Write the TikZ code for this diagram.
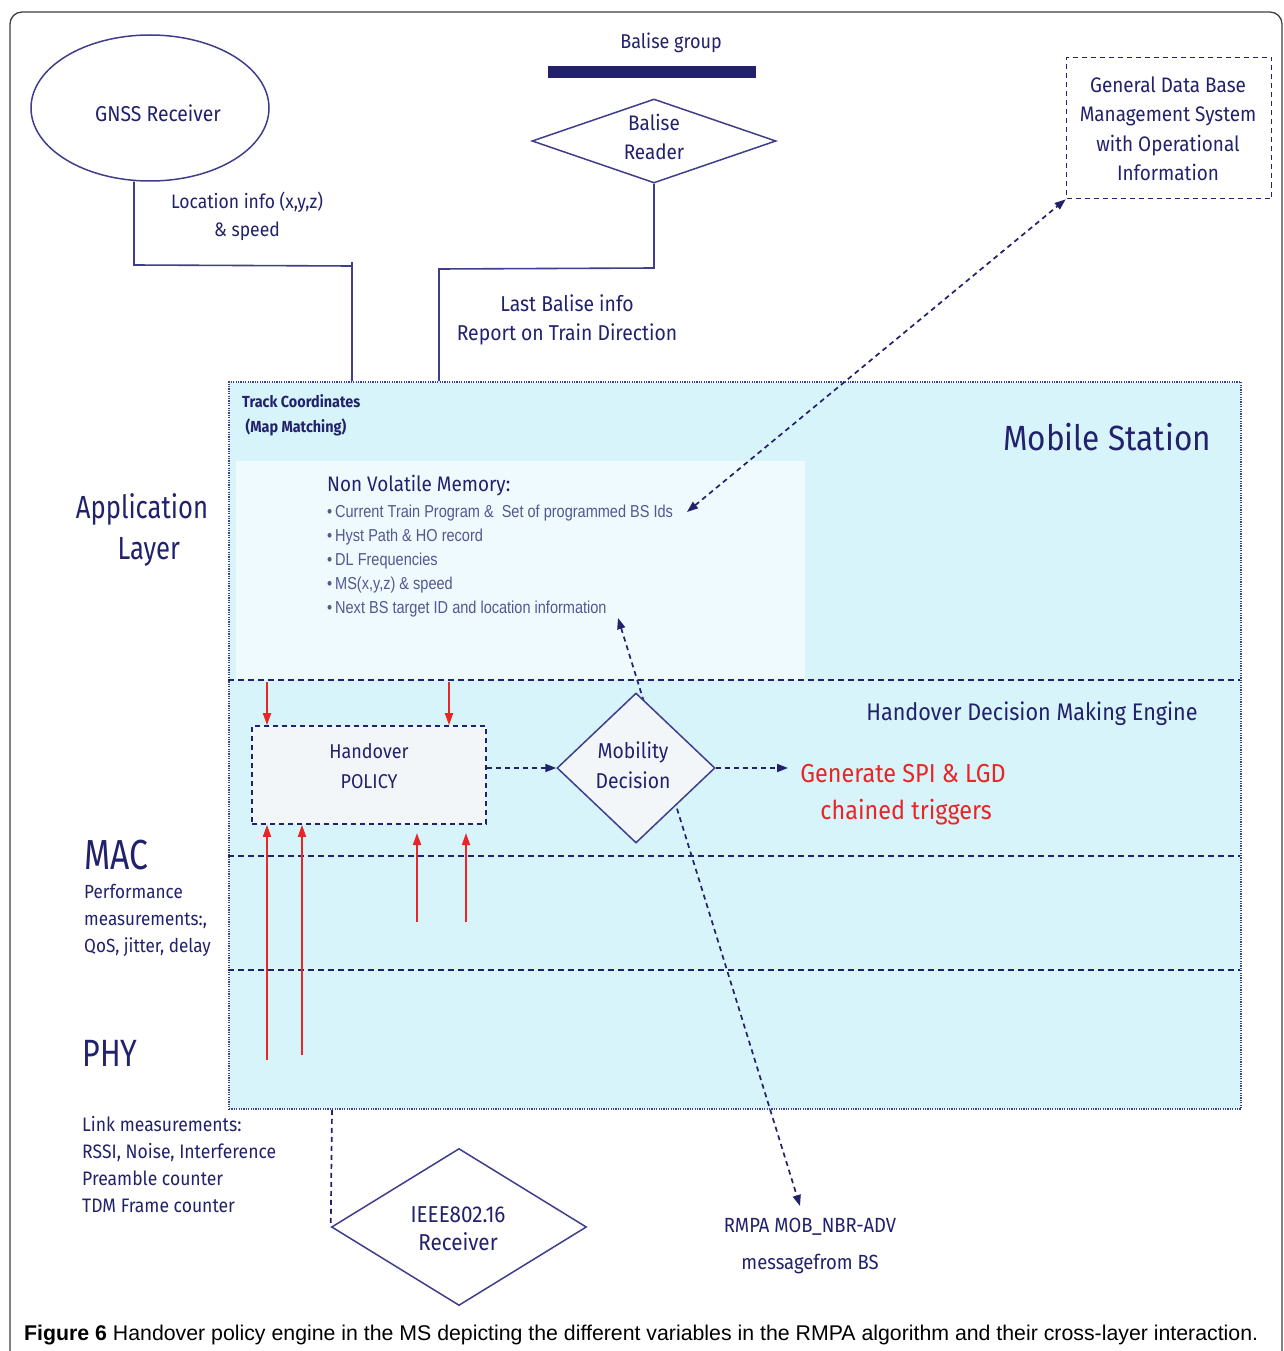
\documentclass[tikz,border=0pt]{standalone}
\usepackage{fontspec}
\setmainfont[FakeStretch=0.9]{Fira Sans}
\newfontfamily\tallfont[FakeStretch=0.8]{Fira Sans}
\newfontfamily\narrowfont[FakeStretch=0.84]{Liberation Sans}
\newfontfamily\capfont{Liberation Sans}
\usetikzlibrary{shapes.geometric,arrows.meta,calc}

\definecolor{ink}{RGB}{33,33,108}
\definecolor{wire}{RGB}{62,62,140}
\definecolor{msfill}{RGB}{216,244,251}
\definecolor{nvmfill}{RGB}{238,250,253}
\definecolor{redarr}{RGB}{232,38,38}
\definecolor{bulletink}{RGB}{82,88,145}
\definecolor{boxfill}{RGB}{243,246,248}

\newcommand{\fs}[2]{\fontsize{#1}{#2}\selectfont}

\tikzset{
  lbl/.style={text=ink, align=center, inner sep=0pt},
  lbll/.style={text=ink, align=left, inner sep=0pt, anchor=west},
  wireline/.style={draw=wire, line width=1.6pt},
  layerline/.style={draw=ink, line width=1.6pt, dash pattern=on 6pt off 4pt},
  dashlink/.style={draw=ink, line width=1.7pt, dash pattern=on 5pt off 4pt},
  tip/.style={-{Triangle[length=11pt,width=8pt]}},
  bothtips/.style={{Triangle[length=11pt,width=8pt]}-{Triangle[length=11pt,width=8pt]}},
  redarrow/.style={draw=redarr, line width=1.8pt, -{Triangle[length=12pt,width=8pt]}},
  outline/.style={draw=wire, line width=1.5pt},
}

\begin{document}
\begin{tikzpicture}[x=1pt,y=-1pt]
\useasboundingbox (0,0) rectangle (1284,1351);
\clip (0,0) rectangle (1284,1351);
\fill[white] (0,0) rectangle (1284,1351);

% outer frame
\draw[black!75, line width=1.3pt, rounded corners=12pt] (10,1400) -- (10,12) -- (1282,12) -- (1282,1400);

% ---------------- top sources ----------------
\node[ellipse, outline, minimum width=238pt, minimum height=146pt] (gnss) at (150,108) {};
\node[lbl, font=\fs{21.5}{25}] (gnsslbl) at (158,113) {GNSS Receiver};
\node[lbl, font=\fs{19.5}{28}] (locinfo) at (247,216) {Location info (x,y,z)\\ \& speed};

\node[lbl, font=\fs{20}{23}] (bgroup) at (671,43) {Balise group};
\node[fill=ink, minimum width=208pt, minimum height=12pt, inner sep=0pt] (bbar) at (652,72) {};
\node[diamond, outline, minimum width=244pt, minimum height=84pt, inner sep=0pt] (breader) at (654,141) {};
\node[lbl, font=\fs{21}{29}] (breaderlbl) at (654,137) {Balise\\Reader};
\node[lbl, font=\fs{21.5}{29}] (lastbal) at (567,320) {Last Balise info\\Report on Train Direction};

\node[draw=ink, line width=1.7pt, dash pattern=on 5pt off 4pt, minimum width=205pt, minimum height=141pt, inner sep=0pt] (db) at (1169,128) {};
\node[lbl, font=\fs{21}{29.5}] (dblbl) at (1168,129) {General Data Base\\Management System\\with Operational\\Information};

% ---------------- mobile station ----------------
\node[fill=msfill, draw=ink!85, line width=1.8pt, dash pattern=on 1.2pt off 1.2pt, minimum width=1012pt, minimum height=727pt, inner sep=0pt, anchor=north west] (ms) at (228,381) {};
\fill[nvmfill] (236,461) rectangle (805,680);

\draw[layerline] (228,680) -- (1240,680);
\draw[layerline] (228,856) -- (1240,856);
\draw[layerline] (228,970) -- (1240,970);

\node[lbll, font=\fs{16}{25}\bfseries] (track) at (242,415) {Track Coordinates\\\ (Map Matching)};
\node[lbl, font=\fs{35}{40}] (mslbl) at (1107,437) {Mobile Station};
\node[lbll, font=\fs{21}{25}] (nvm) at (327,486) {Non Volatile Memory:};
\node[lbll, text=bulletink, font=\narrowfont\fs{17.3}{24}] (nvmlist) at (327,561)
  {\textbullet\,Current Train Program \&\ \ Set of programmed BS Ids\\
   \textbullet\,Hyst Path \& HO record\\
   \textbullet\,DL Frequencies\\
   \textbullet\,MS(x,y,z) \& speed\\
   \textbullet\,Next BS target ID and location information};

\node[lbl, font=\fs{24}{28}] (engine) at (1032,714) {Handover Decision Making Engine};

% decision chain
\coordinate (nvmtip) at (687,512);
\coordinate (nvmtip2) at (618,618);
\coordinate (rmpatip) at (800,1206);
\draw[dashlink, bothtips] (nvmtip2) -- (rmpatip);

\node[draw=ink, line width=1.7pt, dash pattern=on 5pt off 4pt, fill=boxfill, minimum width=234pt, minimum height=98pt, inner sep=0pt] (policy) at (369,775) {};
\node[lbl, font=\fs{20}{30}] (policylbl) at (369,766) {Handover\\POLICY};

\node[diamond, outline, fill=boxfill, minimum width=158pt, minimum height=150pt, inner sep=0pt] (mob) at (636,768) {};
\node[lbl, font=\fs{21.5}{30}] (moblbl) at (633,765) {Mobility\\Decision};

\node[lbl, text=redarr, font=\fs{26}{37}] (gen) at (903,795) {Generate SPI \& LGD\\ \ chained triggers};
\coordinate (genin) at (788,768);

\draw[dashlink, tip] (policy.east |- mob.west) -- (mob.west);
\draw[dashlink, tip] (mob.east) -- (genin);

% red influence arrows
\draw[redarrow] (267,682) -- (267,0 |- policy.north);
\draw[redarrow] (449,682) -- (449,0 |- policy.north);
\draw[redarrow] (267,1060) -- (267,0 |- policy.south);
\draw[redarrow] (302,1055) -- (302,0 |- policy.south);
\draw[redarrow] (417,922) -- (417,833);
\draw[redarrow] (466,922) -- (466,833);

% link to database
\draw[dashlink, bothtips] (nvmtip) -- (db.south west);

% feeds from the sources
\draw[wireline] ($(gnss.south)+(-16,0)$) -- (134,265) -- (352,266) -- (352,0 |- ms.north);
\draw[wireline] (352,262) -- (352,266);
\draw[wireline] (breader.south) -- (654,268) -- (439,269) -- (439,0 |- ms.north);

% ---------------- layer labels ----------------
\node[lbl, font=\tallfont\fs{32}{41}] (applbl) at (142,530) {Application\\\ \ Layer};
\node[lbl, font=\tallfont\fs{42}{46}] (maclbl) at (116,855) {MAC};
\node[lbll, font=\fs{19}{27}] (macinfo) at (84,920) {Performance\\measurements:,\\QoS, jitter, delay};
\node[lbl, font=\tallfont\fs{38}{42}] (phylbl) at (110,1053) {PHY};
\node[lbll, font=\fs{19.5}{27}] (phyinfo) at (82,1164) {Link measurements:\\RSSI, Noise, Interference\\Preamble counter\\TDM Frame counter};

% ---------------- receiver ----------------
\node[diamond, outline, minimum width=255pt, minimum height=157pt, inner sep=0pt] (ieee) at (459,1227) {};
\node[lbl, font=\fs{23}{28}] (ieeelbl) at (458,1229) {IEEE802.16\\Receiver};
\draw[dashlink] (332,0 |- ms.south) -- (ieee.west);

\node[lbl, font=\fs{20.5}{37}] (rmpa) at (810,1246) {RMPA MOB\_NBR-ADV\\messagefrom BS};

% caption
\node[anchor=west, inner sep=0pt, font=\capfont\fs{21.3}{24}] (caption) at (24,1335)
  {\textbf{Figure 6} Handover policy engine in the MS depicting the different variables in the RMPA algorithm and their cross-layer interaction.};
\end{tikzpicture}
\end{document}
